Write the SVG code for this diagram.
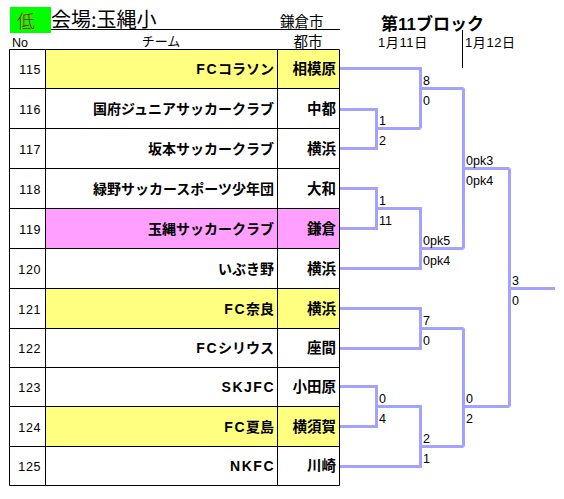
<svg xmlns="http://www.w3.org/2000/svg" width="564" height="499" viewBox="0 0 564 499">
<style>
text{font-family:"Liberation Sans","Noto Sans CJK JP",sans-serif;fill:#000}
.no{font-size:12.5px;text-anchor:end;letter-spacing:0.6px}
.tm{font-size:14px;font-weight:bold;text-anchor:end}
.ct{font-size:14.5px;font-weight:bold;text-anchor:end}
.lat{letter-spacing:1.5px}
.sc{font-size:12.5px}
.dt{font-size:13px;letter-spacing:0.6px}
.grid{stroke:#000;stroke-width:1;fill:none}
.br{stroke:#a3a3ff;stroke-width:3;fill:none;stroke-linejoin:miter;stroke-linecap:butt}
.yel{fill:#ffff80}
.pnk{fill:#ff9fff}
</style>
<rect width="564" height="499" fill="#fff"/>
<g id="header">
<rect x="10" y="7" width="41" height="26" fill="#00ff00"/>
<text x="17" y="28" style="font-size:18px;fill:#c00000;font-family:'Noto Sans CJK JP',sans-serif;font-weight:300">低</text>
<text x="51" y="27" style="font-size:20px;font-family:'Noto Sans CJK JP',sans-serif">会場:玉縄小</text>
<line x1="51" y1="29.5" x2="340" y2="29.5" stroke="#000" stroke-width="1"/>
<text x="280" y="26.5" style="font-size:14.5px">鎌倉市</text>
<text x="12" y="46.5" style="font-size:12.5px">No</text>
<text x="161" y="46" style="font-size:13px;text-anchor:middle">チーム</text>
<text x="308" y="46.5" style="font-size:14.5px;text-anchor:middle">都市</text>
<text x="381" y="29.5" style="font-size:17px;font-weight:bold">第11ブロック</text>
<text class="dt" x="378" y="46.5">1月11日</text>
<text class="dt" x="465" y="46.5">1月12日</text>
<line x1="462.5" y1="30" x2="462.5" y2="68" stroke="#000" stroke-width="1"/>
</g>
<g id="table">
<rect class="yel" x="45.5" y="49.5" width="294" height="39"/>
<rect class="pnk" x="45.5" y="208.5" width="294" height="40"/>
<rect class="yel" x="45.5" y="288.5" width="294" height="40"/>
<rect class="yel" x="45.5" y="406.5" width="294" height="40"/>
<path class="grid" d="M9.5,49.5H339.5V485.5H9.5Z M45.5,49.5V485.5 M277.5,49.5V485.5 M9.5,88.5H339.5 M9.5,128.5H339.5 M9.5,168.5H339.5 M9.5,208.5H339.5 M9.5,248.5H339.5 M9.5,288.5H339.5 M9.5,328.5H339.5 M9.5,367.5H339.5 M9.5,406.5H339.5 M9.5,446.5H339.5"/>
</g>
<g id="team-115"><text class="no" x="41" y="74">115</text><text class="tm" x="274" y="74"><tspan class="lat">FC</tspan>コラソン</text><text class="ct" x="336" y="74">相模原</text></g>
<g id="team-116"><text class="no" x="41" y="113.5">116</text><text class="tm" x="274" y="113.5">国府ジュニアサッカークラブ</text><text class="ct" x="336" y="113.5">中都</text></g>
<g id="team-117"><text class="no" x="41" y="153.5">117</text><text class="tm" x="274" y="153.5">坂本サッカークラブ</text><text class="ct" x="336" y="153.5">横浜</text></g>
<g id="team-118"><text class="no" x="41" y="193.5">118</text><text class="tm" x="274" y="193.5">緑野サッカースポーツ少年団</text><text class="ct" x="336" y="193.5">大和</text></g>
<g id="team-119"><text class="no" x="41" y="233.5">119</text><text class="tm" x="274" y="233.5">玉縄サッカークラブ</text><text class="ct" x="336" y="233.5">鎌倉</text></g>
<g id="team-120"><text class="no" x="41" y="273.5">120</text><text class="tm" x="274" y="273.5">いぶき野</text><text class="ct" x="336" y="273.5">横浜</text></g>
<g id="team-121"><text class="no" x="41" y="313.5">121</text><text class="tm" x="274" y="313.5"><tspan class="lat">FC</tspan>奈良</text><text class="ct" x="336" y="313.5">横浜</text></g>
<g id="team-122"><text class="no" x="41" y="353">122</text><text class="tm" x="274" y="353"><tspan class="lat">FC</tspan>シリウス</text><text class="ct" x="336" y="353">座間</text></g>
<g id="team-123"><text class="no" x="41" y="392">123</text><text class="tm" x="275" y="392"><tspan class="lat">SKJFC</tspan></text><text class="ct" x="336" y="392">小田原</text></g>
<g id="team-124"><text class="no" x="41" y="431.5">124</text><text class="tm" x="274" y="431.5"><tspan class="lat">FC</tspan>夏島</text><text class="ct" x="336" y="431.5">横須賀</text></g>
<g id="team-125"><text class="no" x="41" y="471">125</text><text class="tm" x="275" y="471"><tspan class="lat">NKFC</tspan></text><text class="ct" x="336" y="471">川崎</text></g>
<g id="connectors">
<path class="br" d="M340,109.5H376.5V148.5H340 M376.5,128.5H420.5 M340,68.5H420.5V128.5 M420.5,88.5H463.5"/>
<path class="br" d="M340,188.5H376.5V228.5H340 M376.5,208.5H420.5V268.5H340 M420.5,248.5H463.5"/>
<path class="br" d="M463.5,88.5V248.5 M463.5,168.5H509.5"/>
<path class="br" d="M340,308.5H420.5V348.5H340 M420.5,328.5H463.5"/>
<path class="br" d="M340,386.5H376.5V426.5H340 M376.5,406.5H420.5V466.5H340 M420.5,446.5H463.5"/>
<path class="br" d="M463.5,328.5V446.5 M463.5,406.5H509.5"/>
<path class="br" d="M509.5,168.5V406.5 M509.5,288.5H555"/>
</g>
<g id="scores">
<text class="sc" x="423" y="85">8</text><text class="sc" x="423" y="105">0</text>
<text class="sc" x="379" y="125">1</text><text class="sc" x="379" y="145">2</text>
<text class="sc" x="466" y="165">0pk3</text><text class="sc" x="466" y="185">0pk4</text>
<text class="sc" x="379" y="205">1</text><text class="sc" x="379" y="225">11</text>
<text class="sc" x="423" y="245">0pk5</text><text class="sc" x="423" y="265">0pk4</text>
<text class="sc" x="512" y="285">3</text><text class="sc" x="512" y="305">0</text>
<text class="sc" x="423" y="325">7</text><text class="sc" x="423" y="345">0</text>
<text class="sc" x="379" y="403">0</text><text class="sc" x="379" y="423">4</text>
<text class="sc" x="466" y="403">0</text><text class="sc" x="466" y="423">2</text>
<text class="sc" x="423" y="443">2</text><text class="sc" x="423" y="463">1</text>
</g>
</svg>
